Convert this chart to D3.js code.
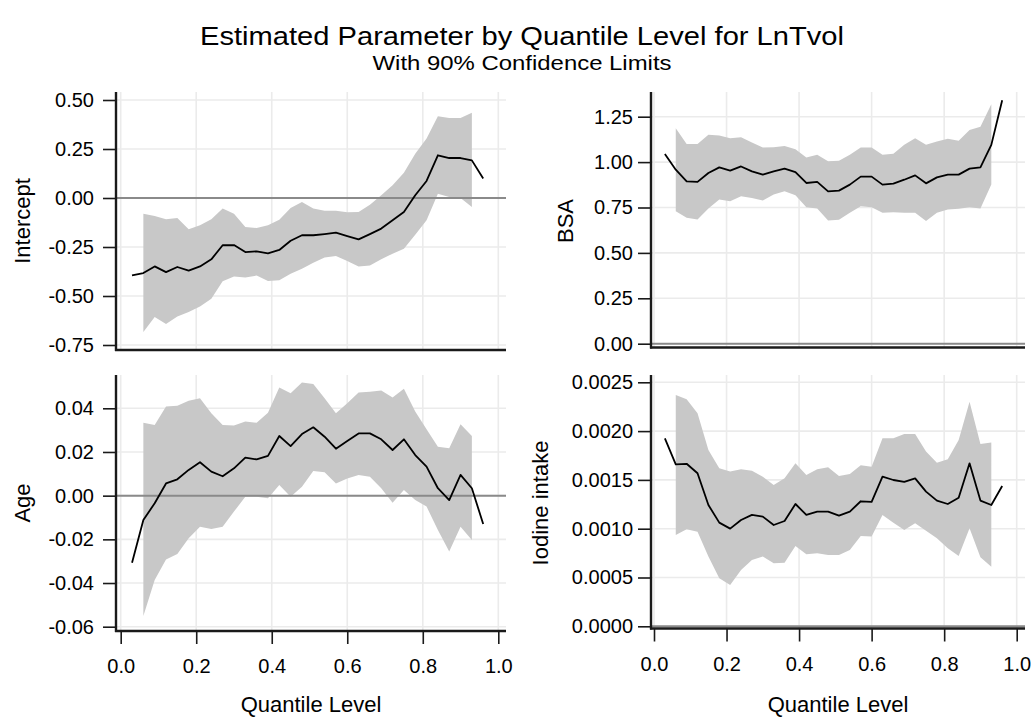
<!DOCTYPE html>
<html><head><meta charset="utf-8">
<script src="https://cdn.jsdelivr.net/npm/d3@7/dist/d3.min.js"></script>
<style>
body{margin:0;background:#fff}
svg{display:block}
text{font-family:"Liberation Sans",Arial,Helvetica,sans-serif;fill:#000}
</style>
</head><body>
<svg id="chart" width="1036" height="722"></svg>
<script>
// ---------------- data ----------------
const quantiles = [0.03,0.06,0.09,0.12,0.15,0.18,0.21,0.24,0.27,0.30,0.33,0.36,0.39,0.42,0.45,0.48,
                   0.51,0.54,0.57,0.60,0.63,0.66,0.69,0.72,0.75,0.78,0.81,0.84,0.87,0.90,0.93,0.96];
// confidence limits are available for the inner quantiles only (0.06 .. 0.93)
const limitQuantiles = [0.06,0.09,0.12,0.15,0.18,0.21,0.24,0.27,0.30,0.33,0.36,0.39,0.42,0.45,0.48,
                        0.51,0.54,0.57,0.60,0.63,0.66,0.69,0.72,0.75,0.78,0.81,0.84,0.87,0.90,0.93];

const interceptEst = [-0.395,-0.383,-0.349,-0.378,-0.352,-0.371,-0.349,-0.313,-0.241,-0.240,
  -0.276,-0.272,-0.282,-0.265,-0.218,-0.190,-0.190,-0.184,-0.177,-0.194,
  -0.211,-0.184,-0.156,-0.114,-0.071,0.014,0.087,0.218,0.204,0.204,0.192,0.099];
const interceptUpper = [-0.080,-0.092,-0.109,-0.102,-0.160,-0.139,-0.109,-0.054,-0.080,-0.148,
  -0.153,-0.139,-0.111,-0.051,-0.020,-0.054,-0.065,-0.065,-0.073,-0.071,
  -0.034,0.014,0.065,0.129,0.226,0.303,0.417,0.408,0.408,0.435];
const interceptLower = [-0.684,-0.607,-0.643,-0.604,-0.582,-0.553,-0.514,-0.425,-0.400,-0.405,
  -0.396,-0.423,-0.420,-0.386,-0.361,-0.330,-0.303,-0.296,-0.321,-0.349,
  -0.344,-0.313,-0.284,-0.259,-0.187,-0.114,0.022,0.005,0.000,-0.046];

const bsaEst = [1.044,0.958,0.894,0.891,0.940,0.971,0.953,0.976,0.949,0.931,
  0.949,0.964,0.945,0.885,0.891,0.839,0.843,0.876,0.920,0.920,
  0.876,0.881,0.903,0.927,0.883,0.916,0.931,0.931,0.964,0.971,1.095,1.341];
const bsaUpper = [1.186,1.099,1.100,1.150,1.146,1.131,1.137,1.108,1.080,1.082,
  1.089,1.071,1.026,1.040,1.004,1.007,1.040,1.080,1.080,1.040,
  1.046,1.095,1.131,1.095,1.113,1.128,1.117,1.177,1.195,1.318];
const bsaLower = [0.730,0.693,0.684,0.745,0.794,0.785,0.812,0.803,0.788,0.821,
  0.839,0.818,0.752,0.745,0.679,0.682,0.721,0.757,0.752,0.721,
  0.724,0.721,0.721,0.675,0.721,0.739,0.743,0.752,0.745,0.876];

const ageEst = [-0.0307,-0.0111,-0.0035,0.0056,0.0075,0.0118,0.0153,0.0110,0.0089,0.0125,
  0.0174,0.0166,0.0182,0.0273,0.0227,0.0282,0.0313,0.0270,0.0215,0.0250,
  0.0285,0.0285,0.0258,0.0209,0.0258,0.0186,0.0133,0.0034,-0.0020,0.0095,0.0034,-0.0130];
const ageUpper = [0.0334,0.0324,0.0408,0.0412,0.0434,0.0446,0.0377,0.0324,0.0321,0.0339,
  0.0334,0.0380,0.0495,0.0469,0.0518,0.0511,0.0446,0.0377,0.0423,0.0472,
  0.0476,0.0481,0.0449,0.0489,0.0385,0.0304,0.0224,0.0217,0.0327,0.0273];
const ageLower = [-0.0551,-0.0386,-0.0292,-0.0267,-0.0195,-0.0142,-0.0153,-0.0142,-0.0073,-0.0005,
  -0.0005,-0.0012,0.0049,-0.0005,0.0041,0.0113,0.0107,0.0056,0.0079,0.0095,
  0.0087,0.0034,-0.0032,0.0026,-0.0020,-0.0050,-0.0157,-0.0256,-0.0142,-0.0203];

const iodineEst = [0.001926,0.001660,0.001665,0.001568,0.001243,0.001062,0.001001,0.001089,0.001141,0.001124,
  0.001038,0.001079,0.001253,0.001141,0.001175,0.001175,0.001134,0.001175,0.001281,0.001274,
  0.001533,0.001499,0.001479,0.001516,0.001380,0.001288,0.001253,0.001318,0.001670,0.001288,0.001243,0.001438];
const iodineUpper = [0.002370,0.002326,0.002182,0.001807,0.001619,0.001585,0.001609,0.001595,0.001533,0.001448,
  0.001516,0.001670,0.001551,0.001609,0.001629,0.001540,0.001561,0.001650,0.001636,0.001926,
  0.001926,0.001971,0.001971,0.001790,0.001677,0.001711,0.001909,0.002302,0.001868,0.001882];
const iodineLower = [0.000936,0.000994,0.000970,0.000714,0.000492,0.000423,0.000577,0.000680,0.000714,0.000645,
  0.000652,0.000823,0.000738,0.000748,0.000731,0.000731,0.000782,0.000926,0.000919,0.001141,
  0.001062,0.000987,0.001055,0.000980,0.000902,0.000799,0.000721,0.001004,0.000707,0.000611];

// ---------------- ticks & labels ----------------
const xTicks = [0,0.2,0.4,0.6,0.8,1.0];
const xTickLabels = ["0.0","0.2","0.4","0.6","0.8","1.0"];
const interceptTicks = [-0.75,-0.50,-0.25,0,0.25,0.50];
const interceptTickLabels = ["-0.75","-0.50","-0.25","0.00","0.25","0.50"];
const bsaTicks = [0,0.25,0.50,0.75,1.00,1.25];
const bsaTickLabels = ["0.00","0.25","0.50","0.75","1.00","1.25"];
const ageTicks = [-0.06,-0.04,-0.02,0,0.02,0.04];
const ageTickLabels = ["-0.06","-0.04","-0.02","0.00","0.02","0.04"];
const iodineTicks = [0,0.0005,0.0010,0.0015,0.0020,0.0025];
const iodineTickLabels = ["0.0000","0.0005","0.0010","0.0015","0.0020","0.0025"];

const titleText = "Estimated Parameter by Quantile Level for LnTvol";
const subtitleText = "With 90% Confidence Limits";
const xAxisTitle = "Quantile Level";

// ---------------- layout (positions / styles only) ----------------
const cols = {
  left:  {axisX:116, right:506, x0:120.7, x1:498.3, pad:9},
  right: {axisX:651, right:1025, x0:654, x1:1016.7, pad:5}
};
const rows = {
  top:    {top:92,  bottom:350},
  bottom: {top:375, bottom:631}
};
const panels = [
  {col:"left",  row:"top",    title:"Intercept",     est:interceptEst, lo:interceptLower, hi:interceptUpper,
   ticks:interceptTicks, tickLabels:interceptTickLabels, yPix:[345,100], axisY:350, labelX:22, showX:false},
  {col:"right", row:"top",    title:"BSA",           est:bsaEst, lo:bsaLower, hi:bsaUpper,
   ticks:bsaTicks, tickLabels:bsaTickLabels, yPix:[343.7,116.7], axisY:347.5, labelX:565, showX:false},
  {col:"left",  row:"bottom", title:"Age",           est:ageEst, lo:ageLower, hi:ageUpper,
   ticks:ageTicks, tickLabels:ageTickLabels, yPix:[626.7,408.3], axisY:631, labelX:22, showX:true},
  {col:"right", row:"bottom", title:"Iodine intake", est:iodineEst, lo:iodineLower, hi:iodineUpper,
   ticks:iodineTicks, tickLabels:iodineTickLabels, yPix:[626.3,382.3], axisY:628.5, labelX:540, showX:true}
];

const svg = d3.select("#chart");
const gridColor = "#ebebeb", bandColor = "#c8c8c8", refColor = "#8a8a8a", axisColor = "#1a1a1a";

svg.append("text").attr("transform","translate(522,45) scale(1.12,1)").attr("text-anchor","middle")
  .style("font-size","26px").text(titleText);
svg.append("text").attr("transform","translate(522,70) scale(1.15,1)").attr("text-anchor","middle")
  .style("font-size","20.8px").text(subtitleText);

panels.forEach(p => {
  const c = cols[p.col], r = rows[p.row];
  const x = d3.scaleLinear().domain([0,1]).range([c.x0, c.x1]);
  const y = d3.scaleLinear().domain([p.ticks[0], p.ticks[p.ticks.length-1]]).range(p.yPix);
  const g = svg.append("g");

  // grid
  g.selectAll(".vg").data(xTicks).join("line")
    .attr("x1",d=>x(d)).attr("x2",d=>x(d)).attr("y1",r.top).attr("y2",p.axisY)
    .attr("stroke",gridColor).attr("stroke-width",1.6);
  g.selectAll(".hg").data(p.ticks).join("line")
    .attr("x1",c.axisX).attr("x2",c.right).attr("y1",d=>y(d)).attr("y2",d=>y(d))
    .attr("stroke",gridColor).attr("stroke-width",1.6);

  // confidence band
  const bandData = limitQuantiles.map((q,i)=>({q, lo:p.lo[i], hi:p.hi[i]}));
  g.append("path").datum(bandData)
    .attr("d", d3.area().x(d=>x(d.q)).y0(d=>y(d.lo)).y1(d=>y(d.hi)))
    .attr("fill",bandColor).attr("stroke","none");

  // zero reference line
  g.append("line").attr("x1",c.axisX).attr("x2",c.right).attr("y1",y(0)).attr("y2",y(0))
    .attr("stroke",refColor).attr("stroke-width",2);

  // estimate line
  const estData = quantiles.map((q,i)=>({q, v:p.est[i]}));
  g.append("path").datum(estData)
    .attr("d", d3.line().x(d=>x(d.q)).y(d=>y(d.v)))
    .attr("fill","none").attr("stroke","#000").attr("stroke-width",1.8).attr("stroke-linejoin","round");

  // y axis
  const ya = g.append("g").attr("transform",`translate(${c.axisX},0)`)
    .call(d3.axisLeft(y).tickValues(p.ticks).tickFormat((d,i)=>p.tickLabels[i]).tickSize(13).tickPadding(c.pad));
  ya.select(".domain").remove();
  ya.selectAll(".tick line").attr("stroke",axisColor).attr("stroke-width",1.6);
  ya.selectAll(".tick text").style("font-size","20px").attr("fill","#000")
    .style("font-family",'"Liberation Sans",Arial,sans-serif');
  g.append("line").attr("x1",c.axisX).attr("x2",c.axisX).attr("y1",r.top).attr("y2",p.axisY+1)
    .attr("stroke",axisColor).attr("stroke-width",2.4);

  // x axis
  if (p.showX) {
    const xa = g.append("g").attr("transform",`translate(0,${p.axisY})`)
      .call(d3.axisBottom(x).tickValues(xTicks).tickFormat((d,i)=>xTickLabels[i]).tickSize(13).tickPadding(15));
    xa.select(".domain").remove();
    xa.selectAll(".tick line").attr("stroke",axisColor).attr("stroke-width",1.6);
    xa.selectAll(".tick text").style("font-size","20px").attr("fill","#000")
      .style("font-family",'"Liberation Sans",Arial,sans-serif');
    g.append("text").attr("x",(c.axisX+c.right)/2).attr("y",712).attr("text-anchor","middle")
      .style("font-size","22px").text(xAxisTitle);
  }
  g.append("line").attr("x1",c.axisX-1).attr("x2",c.right).attr("y1",p.axisY).attr("y2",p.axisY)
    .attr("stroke",axisColor).attr("stroke-width",2.4);

  // y axis title
  const cy = (r.top + r.bottom)/2;
  g.append("text").attr("transform",`translate(${p.labelX},${cy}) rotate(-90)`)
    .attr("text-anchor","middle").attr("dy","0.35em").style("font-size","22px").text(p.title);
});
</script>
</body></html>
